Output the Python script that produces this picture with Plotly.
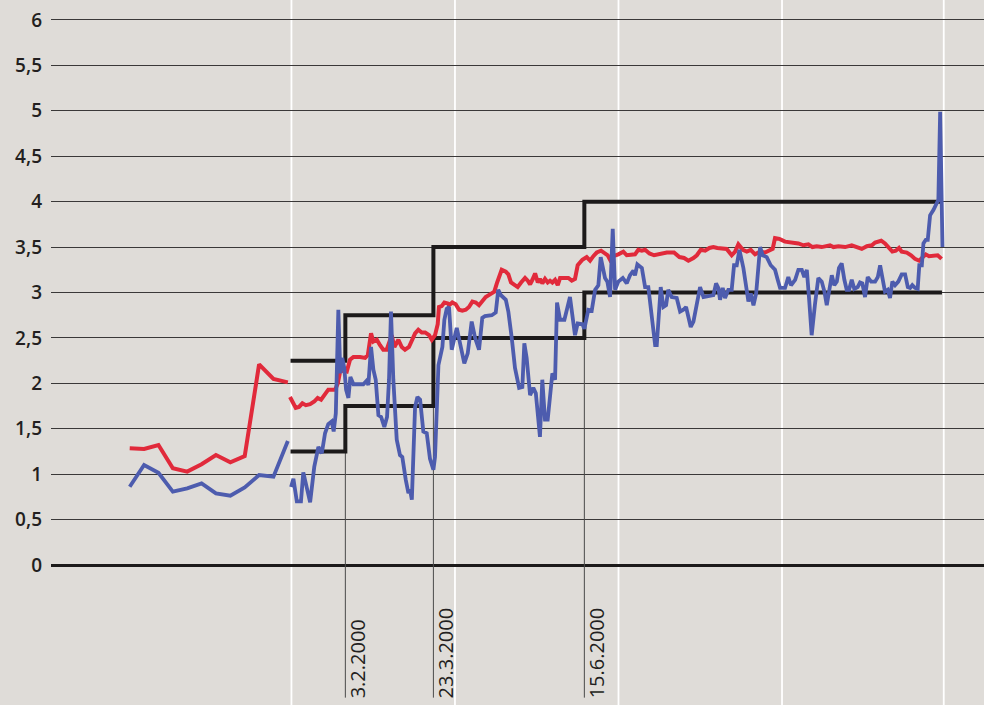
import plotly.graph_objects as go

# ---------------- data ----------------
# early section: monthly points (compressed scale), position in day units
month_pos = [-87, -79, -71, -63, -55, -47, -39, -31, -23, -15, -7, 1]
red_monthly = [1.285, 1.277, 1.321, 1.065, 1.028, 1.109, 1.211, 1.131, 1.200, 2.209, 2.048, 2.011]
blue_monthly = [0.862, 1.101, 1.016, 0.807, 0.844, 0.899, 0.789, 0.763, 0.855, 0.991, 0.972, 1.365]

# daily section: day of year 2000
red_day = [2.2, 3.5, 5.4, 7.2, 9.1, 11.0, 13.4, 15.7, 17.6, 19.5, 21.3, 23.5, 25.4, 27.3, 28.8, 30.1,
           31.9, 33.8, 35.6, 37.5, 41.2, 44.0, 45.5, 47.3, 48.6, 50.5, 52.3, 54.1, 56.0, 57.9, 58.8,
           60.3, 62.5, 64.4, 66.2, 68.4, 70.3, 71.8, 73.6, 75.5, 77.4, 79.6, 81.1, 82.9, 84.4, 85.1,
           86.6, 88.1, 90.0, 90.7, 92.5, 94.4, 96.3, 98.1, 100.0, 101.8, 103.7, 105.6, 107.4, 109.2,
           111.1, 113.5, 115.9, 117.3, 118.5, 120.0, 122.3, 123.7, 125.2, 127.1, 128.9, 130.8, 133.0,
           134.5, 135.8, 137.1, 138.6, 140.1, 141.3, 142.6, 144.1, 145.6, 146.9, 148.2, 149.7, 151.2,
           152.5, 154.9, 157.1, 159.0, 160.8, 162.3, 164.9, 167.3, 169.2, 171.0, 172.9, 175.3, 177.1,
           179.0, 180.3, 182.1, 184.9, 187.7, 189.6, 192.4, 194.2, 196.0, 198.0, 199.8, 202.2, 204.8,
           208.1, 211.9, 215.9, 218.9, 221.5, 223.9, 226.7, 228.6, 230.8, 233.2, 235.6, 237.8, 240.0,
           242.5, 245.2, 248.0, 249.9, 251.7, 254.2, 256.4, 258.6, 261.0, 263.8, 266.6, 269.3, 270.8,
           272.1, 274.5, 277.7, 281.4, 285.1, 287.9, 290.7, 292.9, 295.3, 298.1, 300.9, 302.7, 304.6,
           307.4, 311.1, 314.8, 317.6, 320.4, 323.2, 326.0, 327.8, 331.2, 333.3, 335.5, 337.4, 339.3,
           341.1, 342.6, 345.4, 347.8, 350.0, 352.3, 354.1, 356.0, 357.8, 360.2, 362.6, 364.8]
red_val = [1.85, 1.80, 1.73, 1.74, 1.78, 1.76, 1.77, 1.80, 1.84, 1.82, 1.87, 1.93, 1.93, 1.93, 2.00, 2.13,
           2.14, 2.13, 2.26, 2.29, 2.29, 2.28, 2.31, 2.55, 2.46, 2.48, 2.42, 2.37, 2.37, 2.48, 2.53,
           2.40, 2.48, 2.40, 2.37, 2.40, 2.48, 2.55, 2.59, 2.56, 2.56, 2.53, 2.48, 2.53, 2.65, 2.84,
           2.85, 2.89, 2.88, 2.86, 2.89, 2.87, 2.81, 2.80, 2.81, 2.84, 2.90, 2.89, 2.86, 2.91,
           2.95, 2.98, 3.01, 3.10, 3.16, 3.25, 3.23, 3.20, 3.11, 3.08, 3.06, 3.11, 3.16,
           3.13, 3.09, 3.14, 3.21, 3.11, 3.15, 3.10, 3.15, 3.11, 3.13, 3.11, 3.14, 3.08,
           3.16, 3.16, 3.16, 3.13, 3.15, 3.30, 3.36, 3.39, 3.35, 3.40, 3.44, 3.46, 3.44,
           3.41, 3.36, 3.40, 3.42, 3.45, 3.41, 3.41, 3.42, 3.47, 3.46, 3.47, 3.43, 3.41,
           3.42, 3.44, 3.44, 3.39, 3.38, 3.35, 3.38, 3.41, 3.47, 3.46, 3.49, 3.50, 3.49,
           3.49, 3.48, 3.41, 3.45, 3.53, 3.47, 3.45, 3.47, 3.42, 3.45, 3.44, 3.47, 3.48,
           3.60, 3.59, 3.56, 3.55, 3.54, 3.52, 3.53, 3.50, 3.51, 3.50, 3.51, 3.52, 3.50,
           3.51, 3.50, 3.52, 3.50, 3.48, 3.51, 3.52, 3.55, 3.57, 3.54, 3.49, 3.45, 3.46,
           3.49, 3.45, 3.44, 3.41, 3.37, 3.35, 3.38, 3.42, 3.40, 3.41, 3.41, 3.37]

blue_day = [2.8, 4.1, 6.0, 8.3, 9.6, 13.4, 15.7, 18.0, 19.9, 21.7, 23.5, 25.4, 26.5, 27.7, 29.1, 30.2,
            31.3, 32.4, 33.4, 34.7, 35.8, 37.5, 43.0, 44.9, 45.8, 47.3, 48.6, 49.9, 51.4, 52.9, 54.7,
            56.2, 57.3, 58.4, 59.7, 61.6, 63.4, 64.7, 66.6, 68.1, 69.0, 70.0, 71.8, 73.1, 74.6, 76.4,
            78.3, 80.1, 82.0, 82.9, 84.8, 85.9, 87.0, 88.1, 89.4, 90.7, 92.2, 95.0, 96.8, 99.2, 101.1,
            103.3, 105.2, 107.4, 109.2, 110.7, 114.5, 116.7, 118.1, 119.6, 122.3, 123.7, 125.6, 127.4,
            129.7, 131.5, 132.6, 133.9, 135.8, 137.6, 139.0, 141.3, 142.6, 144.1, 145.6, 147.5, 148.2,
            149.7, 150.8, 152.5, 154.9, 158.0, 159.9, 160.8, 162.3, 164.9, 166.0, 168.2, 170.1, 172.0,
            173.8, 175.1, 177.5, 178.8, 180.3, 181.8, 183.1, 184.9, 187.4, 189.6, 191.4, 193.3, 194.2,
            195.5, 198.0, 199.8, 201.6, 203.5, 205.4, 206.3, 208.5, 210.0, 211.5, 212.7, 214.6, 217.4,
            219.3, 221.1, 222.6, 223.9, 225.2, 226.7, 228.6, 230.4, 232.3, 234.1, 236.4, 237.8, 239.3,
            240.6, 241.5, 243.0, 244.3, 246.1, 248.0, 249.3, 250.8, 252.3, 254.5, 256.0, 257.3, 258.6,
            260.1, 261.6, 263.8, 265.3, 267.5, 269.7, 272.1, 273.6, 274.9, 277.7, 279.5, 281.0, 283.3,
            285.1, 287.0, 288.4, 289.8, 291.0, 292.5, 294.4, 296.2, 298.1, 299.6, 300.9, 302.2, 303.7,
            305.1, 306.5, 307.7, 309.2, 310.7, 312.0, 313.3, 314.8, 316.2, 318.1, 319.4, 320.7, 322.2,
            323.7, 325.6, 327.8, 329.3, 330.6, 331.8, 333.3, 334.8, 336.1, 337.4, 338.9, 340.7, 342.6,
            344.5, 346.0, 347.3, 348.5, 350.0, 351.5, 352.4, 353.8, 354.7, 356.0, 357.1, 358.4, 360.3,
            362.1, 363.0, 364.0, 365.3]
blue_val = [0.86, 0.95, 0.70, 0.70, 1.02, 0.69, 1.08, 1.30, 1.23, 1.45, 1.55, 1.58, 1.47, 1.67, 2.81, 2.11,
            2.28, 2.17, 1.93, 1.84, 2.07, 1.99, 1.99, 2.03, 1.98, 2.40, 2.15, 2.04, 1.65, 1.63, 1.52,
            1.63, 2.04, 2.79, 2.04, 1.38, 1.21, 1.19, 0.94, 0.79, 0.83, 0.72, 1.74, 1.85, 1.82, 1.47,
            1.45, 1.17, 1.05, 1.19, 2.20, 2.30, 2.40, 2.70, 2.82, 2.84, 2.37, 2.61, 2.46, 2.22, 2.33,
            2.68, 2.50, 2.37, 2.72, 2.74, 2.75, 2.78, 3.03, 2.97, 2.92, 2.79, 2.50, 2.17,
            1.95, 1.96, 2.44, 2.28, 1.87, 1.95, 1.89, 1.41, 2.04, 1.60, 1.60, 2.02, 2.11,
            2.04, 2.89, 2.70, 2.70, 2.95, 2.68, 2.53, 2.66, 2.65, 2.60, 2.81, 2.80, 3.03,
            3.08, 3.39, 3.16, 3.12, 2.95, 3.70, 3.03, 3.12, 3.16, 3.10, 3.19, 3.24, 3.19,
            3.31, 3.27, 3.06, 3.06, 2.73, 2.42, 2.42, 3.06, 2.84, 2.86, 3.03, 2.95, 2.94,
            2.79, 2.81, 2.84, 2.73, 2.62, 2.68, 2.90, 3.06, 2.95, 2.96, 2.97, 2.97, 3.10,
            3.05, 2.92, 3.05, 2.94, 3.03, 3.03, 3.30, 3.30, 3.47, 3.27, 3.03, 2.90, 2.99,
            2.86, 2.99, 3.50, 3.41, 3.39, 3.30, 3.25, 3.14, 3.05, 3.05, 3.17, 3.08, 3.14,
            3.25, 3.25, 3.17, 3.25, 2.95, 2.53, 2.88, 3.16, 3.12, 3.01, 2.86, 2.99, 3.19,
            3.08, 3.12, 3.27, 3.32, 3.14, 3.03, 3.03, 3.14, 3.04, 3.06, 3.11, 3.10, 2.95,
            3.17, 3.12, 3.12, 3.17, 3.30, 3.17, 3.01, 3.03, 2.94, 3.12, 3.08, 3.12, 3.20,
            3.20, 3.06, 3.05, 3.08, 3.05, 3.04, 3.30, 3.30, 3.54, 3.58, 3.58, 3.85, 3.91,
            3.98, 4.02, 4.99, 3.50]

# corridor (step lines)
band_days = [2.5, 33, 82, 166, 365]
lower_band = [1.25, 1.75, 2.5, 3.0, 3.0]
upper_band = [2.25, 2.75, 3.5, 4.0, 4.0]
decision_days = [33, 82, 166]
decision_labels = ["3.2.2000", "23.3.2000", "15.6.2000"]

ytick_vals = [0, 0.5, 1, 1.5, 2, 2.5, 3, 3.5, 4, 4.5, 5, 5.5, 6]
ytick_text = ["0", "0,5", "1", "1,5", "2", "2,5", "3", "3,5", "4", "4,5", "5", "5,5", "6"]
quarter_marks = [3, 94, 185, 276, 366]

# ---------------- styling ----------------
BG = "#dfdcd8"
RED = "#e12a3b"
BLUE = "#4d5cae"
BLACK = "#1c1a1a"
TEXT = "#231f20"
Y_MIN, Y_MAX = -1.541, 6.22
X_MIN, X_MAX = -130.8, 388.4
LINE_BOTTOM = -1.46

fig = go.Figure()

# thin vertical marker lines at the decision dates
for d in decision_days:
    i = band_days.index(d)
    fig.add_trace(go.Scatter(x=[d, d], y=[lower_band[i - 1], LINE_BOTTOM], mode="lines",
                             line=dict(color="#4a4a4a", width=1), hoverinfo="skip", showlegend=False))

fig.add_trace(go.Scatter(x=band_days, y=upper_band, mode="lines", line_shape="hv",
                         line=dict(color=BLACK, width=4), showlegend=False))
fig.add_trace(go.Scatter(x=band_days, y=lower_band, mode="lines", line_shape="hv",
                         line=dict(color=BLACK, width=4), showlegend=False))

fig.add_trace(go.Scatter(x=month_pos + [None] + red_day, y=red_monthly + [None] + red_val,
                         mode="lines", line=dict(color=RED, width=4), connectgaps=False,
                         showlegend=False))
fig.add_trace(go.Scatter(x=month_pos + [None] + blue_day, y=blue_monthly + [None] + blue_val,
                         mode="lines", line=dict(color=BLUE, width=3.8), connectgaps=False,
                         showlegend=False))

for q in quarter_marks:
    fig.add_shape(type="line", x0=q, x1=q, y0=0, y1=1, xref="x", yref="paper",
                  line=dict(color="white", width=1.8), layer="between")

for d, lab in zip(decision_days, decision_labels):
    fig.add_annotation(x=d, y=0, xref="x", yref="paper", text=lab, showarrow=False,
                       textangle=-90, xanchor="left", yanchor="bottom", xshift=-3, yshift=5,
                       font=dict(family="Open Sans", size=20, color=TEXT))

fig.update_layout(
    width=984, height=705,
    margin=dict(l=51, r=0, t=0, b=0),
    paper_bgcolor=BG, plot_bgcolor=BG,
    showlegend=False,
    xaxis=dict(range=[X_MIN, X_MAX], showgrid=False, zeroline=False, showticklabels=False,
               showline=False, ticks=""),
    yaxis=dict(range=[Y_MIN, Y_MAX], tickvals=ytick_vals, ticktext=ytick_text,
               showgrid=True, gridcolor="#3a3838", gridwidth=1.3,
               zeroline=True, zerolinecolor=BLACK, zerolinewidth=2.5,
               showline=False, ticks="", ticklabelstandoff=8,
               tickfont=dict(family="Open Sans", size=19, color=TEXT, weight=600)),
)

fig.write_html("out.html", config={"displayModeBar": False},
               post_script="document.body.style.margin='0';document.body.style.background='" + BG + "';")
